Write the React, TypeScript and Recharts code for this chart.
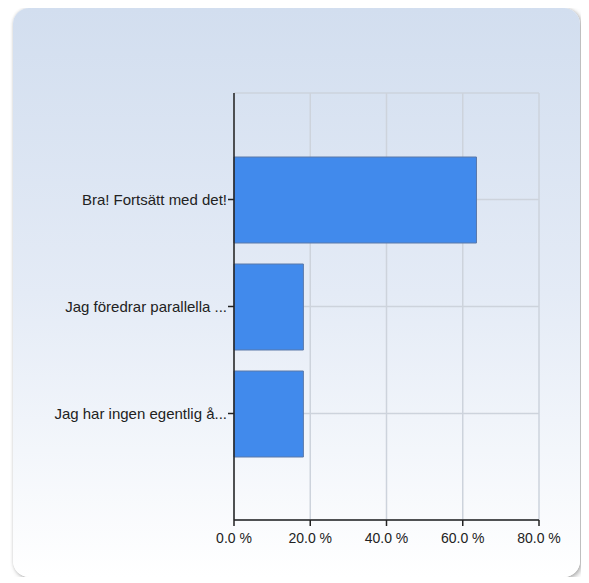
import React from 'react';
import { BarChart, Bar, XAxis, YAxis, CartesianGrid } from 'recharts';

const answers = ['Bra! Fortsätt med det!', 'Jag föredrar parallella ...', 'Jag har ingen egentlig å...'];
const shares = [63.6, 18.2, 18.2];
const percentTicks = [0, 20, 40, 60, 80];

const data = answers.map((answer, i) => ({ answer, share: shares[i] }));

const fmt = (v: number) => `${v.toFixed(1)} %`;

const App: React.FC = () => {
  return (
    <div
      style={{
        marginLeft: 5,
        width: 567,
        height: 569,
        borderRadius: 16,
        background: 'linear-gradient(to bottom, #d2deef 0%, #e4ebf6 50%, #ffffff 100%)',
        boxShadow: '2px 2px 5px rgba(0,0,0,0.3), 0 0 3px rgba(0,0,0,0.12)',
        fontFamily: '"Liberation Sans", Arial, sans-serif',
      }}
    >
      <BarChart
        width={567}
        height={569}
        data={data}
        layout="vertical"
        margin={{ top: 85, right: 41, bottom: 27, left: 0 }}
      >
        <CartesianGrid stroke="#cdd3dc" strokeWidth={1.5} />
        <XAxis
          type="number"
          dataKey="share"
          domain={[0, 80]}
          ticks={percentTicks}
          tickFormatter={fmt}
          axisLine={{ stroke: '#222', strokeWidth: 1.5 }}
          tickLine={{ stroke: '#222', strokeWidth: 1.5 }}
          tickSize={6}
          tickMargin={7}
          height={30}
          tick={{ fill: '#222', fontSize: 14 }}
          interval={0}
        />
        <XAxis
          xAxisId="top"
          orientation="top"
          type="number"
          domain={[0, 80]}
          height={0}
          tick={false}
          tickLine={false}
          axisLine={{ stroke: '#cdd3dc', strokeWidth: 1.5 }}
        />
        <YAxis
          type="category"
          dataKey="answer"
          width={221}
          padding={{ top: 53, bottom: 53 }}
          axisLine={{ stroke: '#222', strokeWidth: 1.5 }}
          tickLine={{ stroke: '#222', strokeWidth: 1.5 }}
          tickSize={6}
          tickMargin={1}
          tick={{ fill: '#222', fontSize: 15 }}
          interval={0}
        />
        <Bar
          dataKey="share"
          barSize={86}
          fill="#418aec"
          stroke="#5a78a8"
          strokeWidth={1}
          isAnimationActive={false}
        />
      </BarChart>
    </div>
  );
};

export default App;
